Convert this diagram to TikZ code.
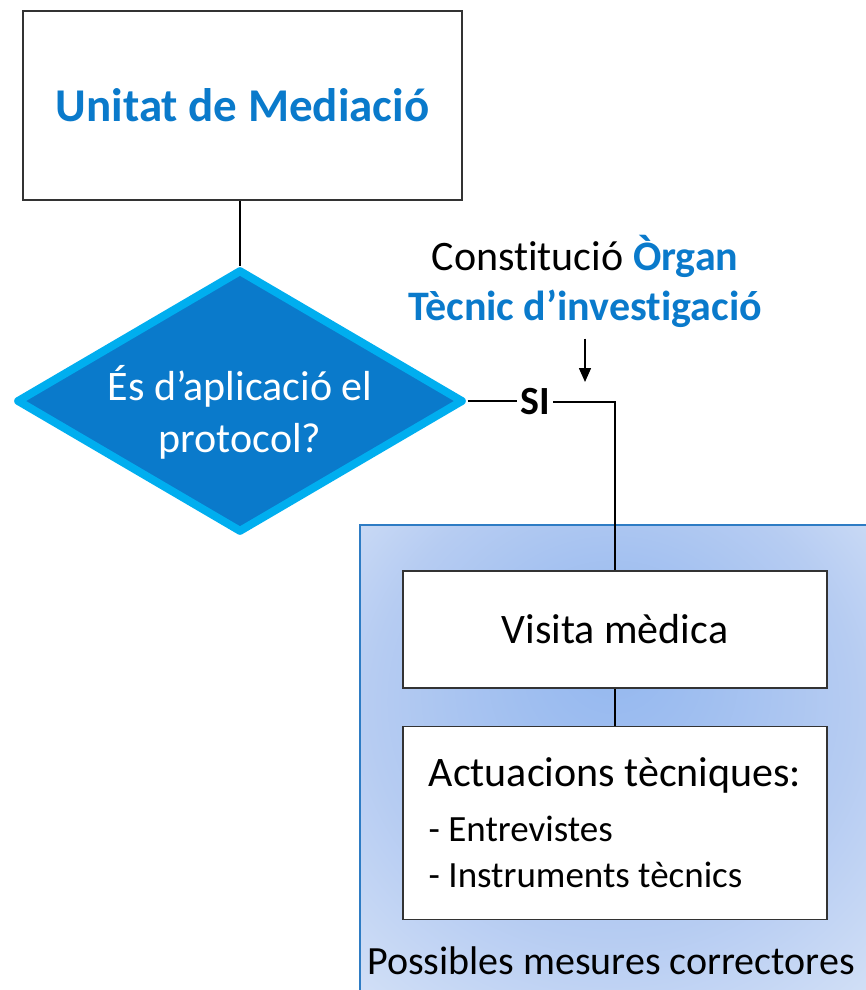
\documentclass[tikz,border=0pt]{standalone}
\usepackage{fontspec}
\setmainfont{Carlito}[Ligatures=NoCommon]
\usetikzlibrary{positioning, shapes.geometric, arrows.meta}

\definecolor{mainblue}{HTML}{0A7ACB}
\definecolor{lightcyan}{HTML}{00AEEF}
\definecolor{panelin}{HTML}{93B7EF}
\definecolor{panelmid}{HTML}{B6CCF2}
\definecolor{panelout}{HTML}{D8E4F7}
\definecolor{panelline}{HTML}{2E7CC4}

\pgfdeclareradialshading{panelglow}{\pgfpoint{0bp}{12bp}}{%
    color(0bp)=(panelin); color(10bp)=(panelin!60!panelmid); color(24bp)=(panelmid);
    color(40bp)=(panelout); color(50bp)=(panelout)}

\tikzset{
    whitebox/.style={draw=black!80, line width=1.5pt, fill=white, align=center},
    conn/.style={draw=black, line width=1.5pt},
}

\begin{document}
\begin{tikzpicture}[x=1pt, y=-1pt]
    \useasboundingbox (0,0) rectangle (866,990);
    \clip (0,0) rectangle (866,990);

    % Background panel
    \shade[shading=panelglow] (360,525) rectangle (866,1005);
    \draw[panelline, line width=1.5pt] (360,1005) -- (360,525) -- (880,525);

    % Define nodes
    \node[whitebox, minimum width=439pt, minimum height=189pt,
          font=\fontsize{47}{56}\selectfont\bfseries, text=mainblue] (unitat) at (242.5,105.5)
        {Unitat de Mediació};
    \node[diamond, aspect=1.68, draw=lightcyan, fill=mainblue, line width=8pt, line join=round,
          minimum width=447pt, minimum height=263pt, inner sep=0pt,
          text=white, font=\fontsize{42}{52}\selectfont] (protocol) at (240,401)
        {\raisebox{-21pt}[0pt][0pt]{\begin{tabular}{@{}c@{}}És d’aplicació el\\protocol?\end{tabular}}};
    \node[font=\fontsize{40}{48}\selectfont\bfseries] (si) at (535,402) {SI};
    \node[align=center, font=\fontsize{42}{50}\selectfont] (organ) at (585,281)
        {Constitució {\bfseries\color{mainblue}Òrgan}\\{\bfseries\color{mainblue}Tècnic d’investigació}};
    \coordinate (arrowend) at (585,382);
    \node[whitebox, minimum width=424pt, minimum height=117pt,
          font=\fontsize{42}{50}\selectfont] (visita) at (615,629.5)
        {Visita mèdica};
    \node[whitebox, minimum width=424pt, minimum height=193pt, below=37pt of visita,
          align=left, font=\fontsize{42}{46}\selectfont] (actuacions)
        {Actuacions tècniques:\\[9pt]
         {\fontsize{37}{46}\selectfont - Entrevistes}\\
         {\fontsize{37}{46}\selectfont - Instruments tècnics}};
    \node[font=\fontsize{40}{48}\selectfont] (mesures) at (611,961) {Possibles mesures correctores};

    % Draw connectors
    \draw[conn] (protocol.north |- unitat.south) -- (protocol.north);
    \draw[conn] (protocol.east) -- (protocol.east -| si.west);
    \draw[conn] (si.east) -| (visita.north);
    \draw[conn] (visita) -- (actuacions);
    \draw[conn, -{Triangle[length=14pt, width=12pt]}] (organ.south) ++(0,8) -- (arrowend);
\end{tikzpicture}
\end{document}
